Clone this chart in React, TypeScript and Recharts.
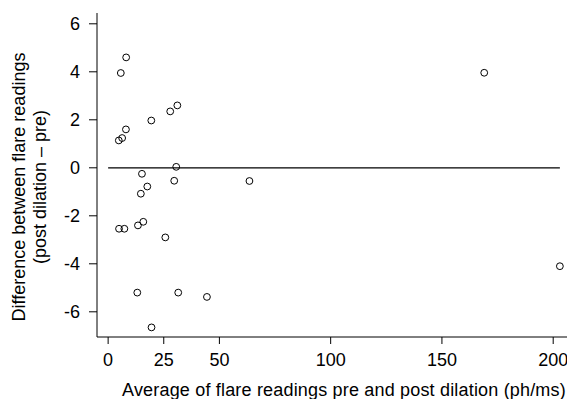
import { ScatterChart, Scatter, XAxis, YAxis, ReferenceLine } from "recharts";

// Bland-Altman style points: average of readings vs. difference
const avgReadings = [
  8.1, 5.7, 8.0, 4.8, 6.3, 19.4, 27.9, 31.1, 30.6, 15.2, 17.6, 14.7, 29.7,
  63.5, 4.9, 7.3, 13.4, 15.8, 25.7, 13.1, 31.5, 19.5, 44.4, 203, 169,
];
const diffReadings = [
  4.6, 3.95, 1.6, 1.14, 1.24, 1.97, 2.35, 2.6, 0.04, -0.25, -0.78, -1.08,
  -0.54, -0.55, -2.54, -2.54, -2.4, -2.25, -2.9, -5.2, -5.2, -6.65, -5.38,
  -4.1, 3.96,
];
const xTicks = [0, 25, 50, 100, 150, 200];
const yTicks = [-6, -4, -2, 0, 2, 4, 6];
const zeroLine = [
  { x: 0, y: 0 },
  { x: 203, y: 0 },
];

const points = avgReadings.map((x, i) => ({ x, y: diffReadings[i] }));

const font = "'Liberation Sans', Arial, sans-serif";
const tickStyle = { fontSize: 18, fill: "#000", fontFamily: font };

const OpenCircle = (props: any) => (
  <circle cx={props.cx} cy={props.cy} r={3.4} fill="none" stroke="#000" strokeWidth={1} />
);

const YTitle = () => {
  const cy = 187;
  return (
    <g fontFamily={font} fontSize={18} fill="#000">
      <text x={25} y={cy} transform={`rotate(-90, 25, ${cy})`} textAnchor="middle">
        Difference between flare readings
      </text>
      <text x={46} y={cy} transform={`rotate(-90, 46, ${cy})`} textAnchor="middle">
        (post dilation – pre)
      </text>
    </g>
  );
};

const XTitle = () => (
  <text
    x={344}
    y={396}
    textAnchor="middle"
    fontFamily={font}
    fontSize={18}
    letterSpacing={0.18}
    fill="#000"
  >
    Average of flare readings pre and post dilation (ph/ms)
  </text>
);

export default function App() {
  return (
    <div style={{ position: "absolute", left: 0, top: 0, background: "#fff" }}>
      <ScatterChart width={567} height={399} margin={{ top: 13, right: 0, bottom: 0, left: 0 }}>
        <XAxis
          type="number"
          dataKey="x"
          domain={[-5, 206.2]}
          ticks={xTicks}
          allowDataOverflow
          tickSize={7}
          tickMargin={9}
          height={62}
          stroke="#000"
          tick={tickStyle}
          label={{ content: XTitle }}
        />
        <YAxis
          type="number"
          dataKey="y"
          domain={[-7.05, 6.45]}
          ticks={yTicks}
          allowDataOverflow
          width={97}
          tickSize={8}
          tickMargin={9}
          stroke="#000"
          tick={tickStyle}
          label={{ content: YTitle }}
        />
        <ReferenceLine segment={zeroLine} stroke="#000" strokeWidth={1.3} />
        <Scatter data={points} shape={OpenCircle} isAnimationActive={false} />
      </ScatterChart>
    </div>
  );
}
